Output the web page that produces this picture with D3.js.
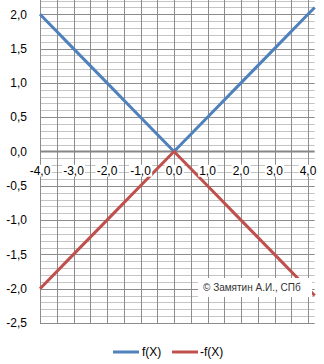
<!DOCTYPE html>
<html><head><meta charset="utf-8">
<script src="https://cdn.jsdelivr.net/npm/d3@7"></script>
<style>body{margin:0;background:#fff}svg{display:block}</style>
</head><body>
<svg id="c" width="324" height="364"></svg>
<script>
const xValues = [-4, -3, -2, -1, 0, 1, 2, 3, 4, 4.2];
const fValues = [2, 1.5, 1, 0.5, 0, 0.5, 1, 1.5, 2, 2.1];
const negFValues = [-2, -1.5, -1, -0.5, 0, -0.5, -1, -1.5, -2, -2.1];
const xTicks = [-4, -3, -2, -1, 0, 1, 2, 3, 4];
const yTicks = [2, 1.5, 1, 0.5, 0, -0.5, -1, -1.5, -2, -2.5];
const seriesNames = ["f(X)", "-f(X)"];
const colors = ["#4F81BD", "#C0504D"];
const credit = "© Замятин А.И., СПб";

const svg = d3.select("#c");
const x = d3.scaleLinear().domain([-4, 4.2]).range([40, 314.7]);
const y = d3.scaleLinear().domain([-2.5, 2.5]).range([323, -20]);
const fmt = v => d3.format(".1f")(v).replace(".", ",").replace("−", "-");

// minor horizontal gridlines
const minor = d3.range(-25, 26).map(i => i / 10);
svg.append("g").selectAll("line").data(minor.filter(v => Math.abs(Math.round(v*10)) % 5 !== 0))
  .join("line").attr("x1", x(-4)).attr("x2", x(4.2))
  .attr("y1", d => Math.round(y(d)) + 0.5).attr("y2", d => Math.round(y(d)) + 0.5)
  .attr("stroke", "#c4c4c4").attr("stroke-width", 1);
// major horizontal
svg.append("g").selectAll("line").data(yTicks.filter(v => v !== 0))
  .join("line").attr("x1", x(-4)).attr("x2", x(4.2))
  .attr("y1", d => Math.round(y(d)) + 0.5).attr("y2", d => Math.round(y(d)) + 0.5)
  .attr("stroke", "#8c8c8c").attr("stroke-width", 1);
// vertical gridlines every 0.5
const vGrid = d3.range(-8, 9).map(i => i / 2);
svg.append("g").selectAll("line").data(vGrid)
  .join("line").attr("y1", y(2.5)).attr("y2", y(-2.5))
  .attr("x1", d => Math.round(x(d)) + 0.5).attr("x2", d => Math.round(x(d)) + 0.5)
  .attr("stroke", "#8c8c8c").attr("stroke-width", 1);
// x axis line at 0
svg.append("line").attr("x1", x(-4)).attr("x2", x(4.2))
  .attr("y1", y(0)).attr("y2", y(0)).attr("stroke", "#868686").attr("stroke-width", 2);

// y labels
svg.append("g").selectAll("text").data(yTicks).join("text")
  .attr("x", 27).attr("y", d => y(d)).attr("dy", "0.35em")
  .attr("text-anchor", "end").attr("font-family", "Liberation Sans, Arial, sans-serif")
  .attr("font-size", 12).attr("fill", "#000").text(fmt);

// series lines
const line = d3.line().x(d => x(d[0])).y(d => y(d[1]));
[fValues, negFValues].forEach((vals, i) => {
  svg.append("path").datum(xValues.map((xv, j) => [xv, vals[j]]))
    .attr("d", line).attr("fill", "none").attr("stroke", colors[i])
    .attr("stroke-width", 3).attr("stroke-linejoin", "round");
});

// x labels with white background
const xl = svg.append("g");
xTicks.forEach(t => {
  const g = xl.append("g").attr("transform", `translate(${x(t)},${y(0) + 19})`);
  const txt = g.append("text").attr("text-anchor", "middle").attr("dy", "0.35em")
    .attr("font-family", "Liberation Sans, Arial, sans-serif").attr("font-size", 12)
    .attr("fill", "#000").text(fmt(t));
  const bb = txt.node().getBBox();
  g.insert("rect", "text").attr("x", bb.x - 1).attr("y", bb.y + 1)
    .attr("width", bb.width + 2).attr("height", bb.height - 2).attr("fill", "#fff");
});

// credit box
const cg = svg.append("g").attr("transform", "translate(198,278)");
cg.append("rect").attr("width", 114).attr("height", 19).attr("fill", "#fff");
cg.append("text").attr("x", 5).attr("y", 13).attr("font-family", "Liberation Sans, Arial, sans-serif")
  .attr("font-size", 10).attr("fill", "#333").text(credit);

// legend
const lg = svg.append("g").attr("transform", "translate(0,352)");
const legendPos = [[113, 142], [172, 200]];
seriesNames.forEach((n, i) => {
  lg.append("line").attr("x1", legendPos[i][0]).attr("x2", legendPos[i][0] + 26)
    .attr("y1", 0).attr("y2", 0).attr("stroke", colors[i]).attr("stroke-width", 3);
  lg.append("text").attr("x", legendPos[i][1]).attr("y", 0).attr("dy", "0.35em")
    .attr("font-family", "Liberation Sans, Arial, sans-serif").attr("font-size", 12)
    .attr("fill", "#000").text(n);
});
</script>
</body></html>
